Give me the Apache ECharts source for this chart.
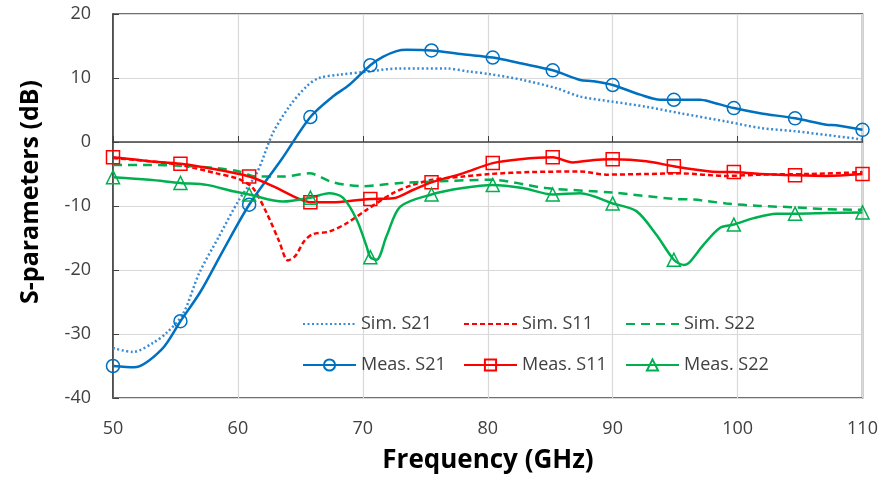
<!DOCTYPE html>
<html>
<head>
<meta charset="utf-8">
<script src="https://cdn.jsdelivr.net/npm/echarts@6/dist/echarts.min.js"></script>
<style>
  html, body { margin: 0; padding: 0; background: #fff; }
  #chart { width: 891px; height: 478px; }
</style>
</head>
<body>
<div id="chart"></div>
<script>
// Frequency (GHz), S-parameter (dB) pairs for each trace
const simS21 = [
  [50, -32.2], [51.6, -32.8], [53.2, -31.4], [54.3, -29.8], [55.6, -26.9], [56.9, -20.5],
  [58.5, -14.7], [60.1, -9.0], [61.5, -4.9], [62.8, 1.4], [64.1, 5.5], [65.5, 8.7],
  [66.5, 10.0], [68.1, 10.5], [70.3, 11.0], [73, 11.5], [76.7, 11.5], [78.5, 11.0],
  [80.2, 10.6], [82.8, 9.7], [85.5, 8.4], [87.4, 7.1], [90, 6.3], [92.7, 5.5],
  [95.4, 4.5], [99.1, 3.2], [101.8, 2.2], [104.5, 1.7], [107.1, 1.1], [110, 0.4]
];
const simS11 = [
  [50, -2.5], [52.9, -3.0], [55.4, -3.6], [58.3, -4.9], [60.1, -5.8], [61.2, -7.2],
  [62.3, -11.1], [63.3, -15.5], [64.0, -18.5], [64.6, -17.8], [65.3, -15.5], [66.0, -14.4],
  [67.3, -14.0], [68.7, -12.7], [70.3, -10.6], [72.4, -8.0], [74, -6.7], [75.6, -5.9],
  [78, -5.4], [80.2, -5.0], [83.4, -4.7], [87.4, -4.6], [89.5, -5.1], [92.7, -5.0],
  [95.4, -4.9], [99.1, -5.3], [101.8, -5.1], [105.8, -5.0], [110, -4.7]
];
const simS22 = [
  [50, -3.6], [52.9, -3.6], [55.4, -3.7], [58.3, -4.1], [60.1, -4.6], [61.5, -5.4],
  [63.6, -5.4], [65.7, -4.9], [67.6, -6.3], [70, -6.9], [71.4, -6.7], [73, -6.4],
  [75.4, -6.2], [80.2, -5.9], [84.7, -7.2], [90, -7.9], [94.9, -8.9], [96.5, -9.0],
  [99.1, -9.6], [101.8, -10.0], [104.5, -10.2], [107.1, -10.5], [110, -10.6]
];
const measS21 = [
  [50, -35.0], [51.7, -35.2], [53.9, -32.4], [55.4, -28.0], [57.0, -23.4], [58.8, -17.0],
  [60.9, -9.8], [63.5, -2.7], [65.8, 3.9], [67.6, 7.1], [68.9, 8.9], [70.6, 12.0],
  [71.6, 13.3], [72.7, 14.2], [73.5, 14.4], [75.5, 14.3], [78, 13.7], [80.4, 13.2],
  [82.6, 12.3], [85.2, 11.2], [87.4, 9.7], [88.4, 9.5], [90, 8.9], [92.2, 7.4],
  [93.8, 6.6], [94.9, 6.6], [97, 6.6], [97.8, 6.3], [99.7, 5.3], [101.8, 4.5],
  [104.6, 3.7], [107.1, 2.7], [107.9, 2.6], [110, 1.9]
];
const measS11 = [
  [50, -2.4], [52.9, -3.0], [55.4, -3.4], [58.3, -4.3], [60.9, -5.4], [62.8, -6.9],
  [64.9, -8.9], [65.8, -9.4], [67.6, -9.4], [69.5, -9.1], [70.6, -8.9], [72.4, -8.8],
  [74, -7.5], [75.5, -6.3], [78, -4.9], [80.4, -3.3], [82.6, -2.7], [85.2, -2.4],
  [86.8, -3.2], [88.5, -2.8], [90, -2.7], [92.7, -3.0], [94.9, -3.8], [97.8, -4.6],
  [99.7, -4.7], [101.8, -5.0], [104.6, -5.2], [107.1, -5.3], [110, -5.0]
];
const measS22 = [
  [50, -5.5], [52.9, -5.9], [55.4, -6.4], [57.5, -6.7], [59.6, -7.7], [60.9, -8.2],
  [63.6, -9.3], [65.8, -8.7], [67.3, -8.0], [68.4, -8.7], [69.5, -12.1], [70.3, -16.3],
  [70.6, -18.0], [71.1, -18.4], [71.9, -14.7], [73, -10.1], [75.5, -8.2], [78, -7.2],
  [80.4, -6.7], [82.8, -7.2], [85.2, -8.2], [87.4, -8.0], [90, -9.6], [91.9, -10.8],
  [93.5, -14.5], [94.9, -18.4], [95.7, -19.2], [96.1, -18.9], [97.3, -16.0], [98.6, -13.4],
  [99.7, -12.9], [101.3, -11.9], [103.1, -11.2], [104.6, -11.2], [107.1, -11.1], [110, -11.0]
];
// Frequencies at which the measured traces carry a marker
const markerFreqs = [50, 55.4, 60.9, 65.8, 70.6, 75.5, 80.4, 85.2, 90, 94.9, 99.7, 104.6, 110];

const xTicks = [50, 60, 70, 80, 90, 100, 110];
const yTicks = [-40, -30, -20, -10, 0, 10, 20];

const BLUE = '#0070C0', SIMBLUE = '#3A8BD3', RED = '#FF0000', GREEN = '#00B050';
const FONT = '"Open Sans", "Noto Sans", sans-serif';

function withMarkers(points) {
  return points.map(p => markerFreqs.indexOf(p[0]) >= 0
    ? { value: p }
    : { value: p, symbol: 'none' });
}

function simSeries(name, data, color, dash) {
  return {
    name, type: 'line', data, smooth: 0.3, symbol: 'none', clip: false,
    lineStyle: { color, width: 2.5, type: dash },
    itemStyle: { color }
  };
}
function measSeries(name, data, color, symbol) {
  return {
    name, type: 'line', data: withMarkers(data), smooth: 0.3, clip: false,
    symbol, symbolSize: 13, showSymbol: true, showAllSymbol: true,
    lineStyle: { color, width: 2.5, type: 'solid' },
    itemStyle: { color: 'rgba(255,255,255,0)', borderColor: color, borderWidth: 1.5 }
  };
}

// Legend laid out as a 2 x 3 table with aligned columns
const legendCols = [302, 463, 625];
const legendRows = [315, 356];
const legendNames = [['Sim. S21', 'Sim. S11', 'Sim. S22'], ['Meas. S21', 'Meas. S11', 'Meas. S22']];
const legends = [];
legendNames.forEach((row, r) => row.forEach((name, c) => {
  const item = {
    data: [name], left: legendCols[c], top: legendRows[r],
    itemWidth: 53, itemHeight: 14, itemGap: 0, padding: 0,
    selectedMode: false,
    textStyle: { fontFamily: FONT, fontSize: 18, color: '#404040' }
  };
  if (r === 0) item.itemStyle = { opacity: 0 };
  legends.push(item);
}));

const chart = echarts.init(document.getElementById('chart'), null, { renderer: 'canvas' });
chart.setOption({
  animation: false,
  backgroundColor: '#fff',
  grid: { left: 113, right: 28.5, top: 14, bottom: 80, show: true, borderColor: '#404040', borderWidth: 1.5, backgroundColor: 'transparent' },
  legend: legends,
  graphic: [
    {
      type: 'text', x: 488, y: 461,
      style: { text: 'Frequency (GHz)', font: 'bold 26px ' + FONT, fill: '#000', align: 'center', verticalAlign: 'middle' }
    },
    {
      type: 'text', x: 31, y: 192, rotation: Math.PI / 2,
      style: { text: 'S-parameters (dB)', font: 'bold 25px ' + FONT, fill: '#000', align: 'center', verticalAlign: 'middle' }
    }
  ],
  xAxis: {
    type: 'value', min: xTicks[0], max: xTicks[xTicks.length - 1], interval: 10,
    axisLine: { show: true, lineStyle: { color: '#404040', width: 1.5 } },
    axisTick: { show: true, inside: true, length: 6, lineStyle: { color: '#404040' } },
    axisLabel: { margin: 22, fontFamily: FONT, fontSize: 18, color: '#404040' },
    splitLine: { show: true, lineStyle: { color: '#D9D9D9', width: 1.2 } }
  },
  yAxis: {
    type: 'value', min: yTicks[0], max: yTicks[yTicks.length - 1], interval: 10,
    axisLine: { show: true, lineStyle: { color: '#404040', width: 1.5 } },
    axisTick: { show: true, inside: true, length: 6, lineStyle: { color: '#404040' } },
    axisLabel: { margin: 22, fontFamily: FONT, fontSize: 18, color: '#404040' },
    splitLine: { show: true, lineStyle: { color: '#D9D9D9', width: 1.2 } }
  },
  series: [
    simSeries('Sim. S21', simS21, SIMBLUE, [2, 2.5]),
    simSeries('Sim. S11', simS11, RED, [5, 3]),
    simSeries('Sim. S22', simS22, GREEN, [9, 6]),
    measSeries('Meas. S21', measS21, BLUE, 'circle'),
    measSeries('Meas. S11', measS11, RED, 'rect'),
    measSeries('Meas. S22', measS22, GREEN, 'triangle')
  ]
});
</script>
</body>
</html>
